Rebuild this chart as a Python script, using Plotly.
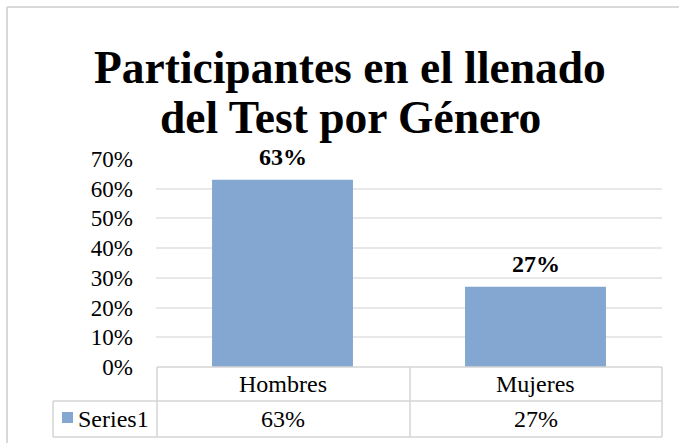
import plotly.graph_objects as go

categories = ["Hombres", "Mujeres"]
values = [0.63, 0.27]
value_labels = ["63%", "27%"]
series_name = "Series1"
title_lines = ["Participantes en el llenado", "del Test por Género"]
tick_vals = [0, 0.1, 0.2, 0.3, 0.4, 0.5, 0.6, 0.7]
tick_text = ["0%", "10%", "20%", "30%", "40%", "50%", "60%", "70%"]

W, H = 679, 443
ML, MR, MT, MB = 156, 17, 159, 76
PH = H - MT - MB
BAR = "#83A7D0"
GRID = "#E8E8E8"
LINE = "#D4D4D4"
FONT = "Liberation Serif"


def py(Y):
    """pixel row -> paper y"""
    return (H - MB - Y) / PH


def px(X):
    return (X - ML) / (W - ML - MR)


fig = go.Figure()
fig.add_trace(go.Bar(
    x=categories, y=values, width=0.557, marker=dict(color=BAR, line=dict(width=0)),
    name=series_name, showlegend=False,
))

shapes = []
# chart border (left and top)
shapes.append(dict(type="line", xref="paper", yref="paper", x0=px(7), x1=px(W + 5),
                   y0=py(7), y1=py(7), line=dict(color="#D9D9D9", width=2)))
shapes.append(dict(type="line", xref="paper", yref="paper", x0=px(7), x1=px(7),
                   y0=py(7), y1=py(H + 5), line=dict(color="#D9D9D9", width=2)))

# data table
r0, r1, r2 = py(367), py(401), py(437)
for yv, x0 in [(r0, 157), (r1, 53), (r2, 53)]:
    shapes.append(dict(type="line", xref="paper", yref="paper",
                       x0=px(x0), x1=px(662),
                       y0=yv, y1=yv, line=dict(color=LINE, width=1.5)))
for xv in [157, 410, 662]:
    shapes.append(dict(type="line", xref="paper", yref="paper", x0=px(xv), x1=px(xv),
                       y0=r0, y1=r2, line=dict(color=LINE, width=1.5)))
shapes.append(dict(type="line", xref="paper", yref="paper", x0=px(53), x1=px(53),
                   y0=r1, y1=r2, line=dict(color=LINE, width=1.5)))
# legend key square
shapes.append(dict(type="rect", xref="paper", yref="paper", x0=px(62), x1=px(73),
                   y0=py(423), y1=py(412), fillcolor=BAR, line=dict(width=0)))

ann = []
for c, v, lab in zip(categories, values, value_labels):
    ann.append(dict(x=c, xref="x", y=v, yref="y", text="<b>" + lab + "</b>", showarrow=False,
                    xanchor="center", yanchor="middle", yshift=23,
                    font=dict(family=FONT, size=24, color="#000000")))
    ann.append(dict(x=c, xref="x", y=(r0 + r1) / 2, yref="paper", text=c, showarrow=False,
                    xanchor="center", yanchor="middle",
                    font=dict(family=FONT, size=24, color="#000000")))
    ann.append(dict(x=c, xref="x", y=(r1 + r2) / 2, yref="paper", text=lab, showarrow=False,
                    xanchor="center", yanchor="middle",
                    font=dict(family=FONT, size=24, color="#000000")))
ann.append(dict(x=px(76), xref="paper", y=(r1 + r2) / 2, yref="paper", text=series_name,
                xanchor="left", yanchor="middle", showarrow=False,
                font=dict(family=FONT, size=24, color="#000000")))
for line_text, yc in zip(title_lines, [67, 117]):
    ann.append(dict(x=px(350), xref="paper", y=py(yc), yref="paper",
                    text="<b>" + line_text + "</b>", showarrow=False,
                    xanchor="center", yanchor="middle",
                    font=dict(family=FONT, size=45.5, color="#000000")))

fig.update_layout(
    width=W, height=H, margin=dict(l=ML, r=MR, t=MT, b=MB),
    paper_bgcolor="white", plot_bgcolor="white",
    shapes=shapes, annotations=ann,
    xaxis=dict(showticklabels=False, showgrid=False, zeroline=False, showline=False,
               range=[-0.5, 1.5]),
    yaxis=dict(range=[0, 0.7], tickvals=tick_vals, ticktext=tick_text,
               showgrid=True, gridcolor=GRID, gridwidth=1.5, zeroline=False, showline=False,
               tickfont=dict(family=FONT, size=23, color="#000000"), ticklabelstandoff=22),
    font=dict(family=FONT),
)

fig.write_html("out.html",
               post_script="document.body.style.margin='0';document.body.style.overflow='hidden';"
                           "var m=document.querySelector('.modebar-container');"
                           "if(m){m.style.display='none';}")
